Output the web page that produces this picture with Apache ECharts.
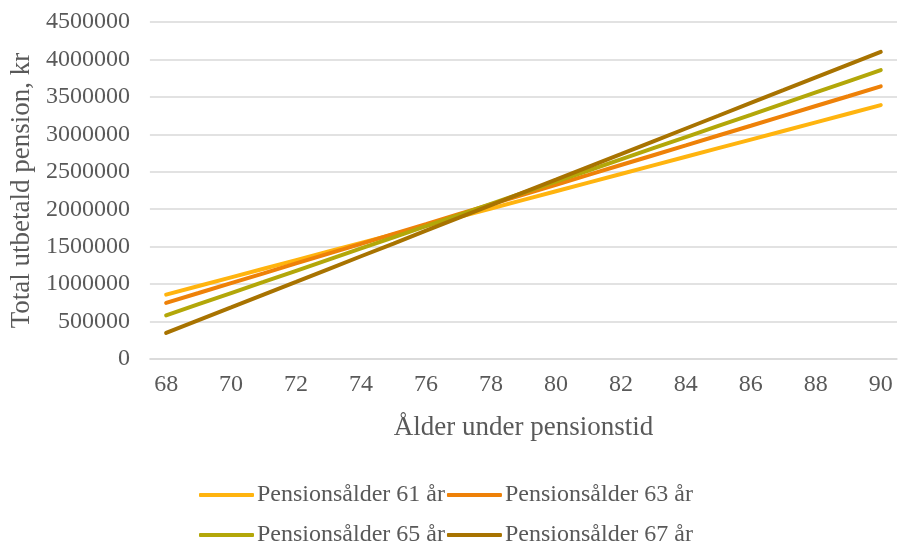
<!DOCTYPE html>
<html>
<head>
<meta charset="utf-8">
<script src="https://cdn.jsdelivr.net/npm/echarts@6/dist/echarts.min.js"></script>
<style>
html,body{margin:0;padding:0;background:#fff;}
#chart{width:899px;height:546px;}
</style>
</head>
<body>
<div id="chart"></div>
<script>
const ages = ['68','69','70','71','72','73','74','75','76','77','78','79','80','81','82','83','84','85','86','87','88','89','90'];
const seriesNames = ['Pensionsålder 61 år','Pensionsålder 63 år','Pensionsålder 65 år','Pensionsålder 67 år'];
const pension61 = [860000,975000,1090000,1205000,1320000,1435000,1550000,1665000,1780000,1895000,2010000,2125000,2240000,2355000,2470000,2585000,2700000,2815000,2930000,3045000,3160000,3275000,3390000];
const pension63 = [750000,881000,1013000,1144000,1276000,1407000,1538000,1670000,1801000,1933000,2064000,2195000,2327000,2458000,2590000,2721000,2852000,2984000,3115000,3247000,3378000,3509000,3641000];
const pension65 = [583000,732000,881000,1029000,1178000,1327000,1476000,1625000,1773000,1922000,2071000,2220000,2369000,2517000,2666000,2815000,2964000,3113000,3261000,3410000,3559000,3708000,3857000];
const pension67 = [348000,519000,689000,860000,1030000,1201000,1372000,1542000,1713000,1883000,2054000,2225000,2395000,2566000,2736000,2907000,3078000,3248000,3419000,3589000,3760000,3931000,4101000];
const colors = ['#FFB40F','#EE8108','#B3A709','#A87300'];
const allData = [pension61, pension63, pension65, pension67];

const font = 'Liberation Serif, Times New Roman, serif';
const txt = '#595959';

const chart = echarts.init(document.getElementById('chart'));
chart.setOption({
  animation: false,
  color: colors,
  grid: {left: 148, right: 2, top: 22, bottom: 187, containLabel: false},
  legend: {
    data: seriesNames,
    left: 194, top: 471, width: 530,
    itemWidth: 55, itemHeight: 4, itemGap: 2,
    icon: 'roundRect',
    textStyle: {fontFamily: font, fontSize: 24, color: txt, lineHeight: 38, padding: [0,0,0,-2]}
  },
  xAxis: {
    type: 'category',
    data: ages,
    boundaryGap: true,
    name: 'Ålder under pensionstid',
    nameLocation: 'middle',
    nameGap: 55,
    nameTextStyle: {fontFamily: font, fontSize: 27, color: txt},
    axisLine: {show: true, lineStyle: {color: '#d9d9d9', width: 1.5}},
    axisTick: {show: false},
    axisLabel: {interval: 1, fontFamily: font, fontSize: 24, color: txt, margin: 14}
  },
  yAxis: {
    type: 'value',
    min: 0, max: 4500000, interval: 500000,
    name: 'Total utbetald pension, kr',
    nameLocation: 'middle',
    nameGap: 112,
    nameTextStyle: {fontFamily: font, fontSize: 27, color: txt},
    axisLine: {show: false},
    axisTick: {show: false},
    splitLine: {lineStyle: {color: '#d9d9d9', width: 1.5}},
    axisLabel: {fontFamily: font, fontSize: 24, color: txt, margin: 20, formatter: v => String(v)}
  },
  series: seriesNames.map((n, i) => ({
    name: n,
    type: 'line',
    data: allData[i],
    showSymbol: false,
    symbol: 'none',
    lineStyle: {width: 4, color: colors[i], cap: 'round'},
    itemStyle: {color: colors[i]}
  }))
});
</script>
</body>
</html>
